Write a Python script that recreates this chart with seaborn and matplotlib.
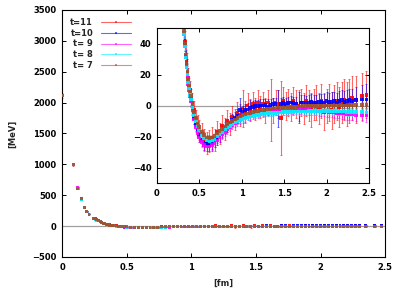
import numpy as np
import pandas as pd
import matplotlib
matplotlib.use("Agg")
import matplotlib.pyplot as plt
from matplotlib.lines import Line2D
import seaborn as sns

# ---------------- data ----------------
r = [0.0, 0.085, 0.12, 0.147, 0.17, 0.19, 0.208, 0.24, 0.255, 0.269,
     0.282, 0.294, 0.306, 0.318, 0.33, 0.34, 0.35, 0.36, 0.37, 0.38,
     0.39, 0.40, 0.42, 0.44, 0.46, 0.48, 0.50, 0.53, 0.56, 0.59,
     0.62, 0.65, 0.68, 0.71, 0.74, 0.77, 0.80, 0.83, 0.86, 0.89,
     0.92, 0.95, 0.98, 1.01, 1.04, 1.07, 1.10, 1.13, 1.16, 1.19,
     1.22, 1.25, 1.28, 1.31, 1.34, 1.37, 1.40, 1.43, 1.46, 1.49,
     1.52, 1.55, 1.58, 1.61, 1.64, 1.67, 1.70, 1.73, 1.76, 1.79,
     1.82, 1.85, 1.88, 1.91, 1.94, 1.97, 2.00, 2.03, 2.06, 2.09,
     2.12, 2.15, 2.18, 2.21, 2.24, 2.27, 2.30, 2.35, 2.42, 2.47]

v11 = [2119, 999, 617, 439, 299, 239, 196, 131, 114, 101,
       84, 71, 59, 46, 41, 32, 28, 21, 18, 12,
       10, 5, 2, -3, -9, -12, -16, -18, -22, -24,
       -23, -21, -22, -17, -18, -13, -15, -10, -12, -7,
       -9, -5, -6, -2, -4, 0, -3, 1, -2, 2,
       -1, 1, -3, 2, -3, -3, 2, 1, -8, 3,
       0, 2, -1, 3, 1, 0, 2, -2, 3, 0,
       -3, 1, 2, -2, 3, -4, 0, 2, -3, 1,
       3, -1, 2, 4, 1, 3, 5, 4, 6, 7]
e11 = [40, 30, 22, 17, 13, 11, 9, 8, 8, 8,
       8, 8, 7, 7, 7, 7, 6, 6, 6, 6,
       6, 6, 6, 6, 6, 6, 6.5, 7, 7, 7,
       7, 7, 7, 7, 7, 7, 7, 7, 7, 7,
       7, 7, 7, 12, 7, 8, 7, 8, 7, 8,
       7, 8, 8, 8, 20, 8, 8, 9, 24, 9,
       9, 9, 9, 9, 9, 10, 9, 10, 10, 10,
       11, 10, 11, 10, 11, 12, 11, 12, 12, 12,
       12, 13, 13, 13, 14, 14, 14, 15, 15, 15]

v10 = [2121, 1001, 616, 441, 301, 241, 195, 129, 116, 99,
       86, 69, 58, 47, 39, 32, 26, 20, 15, 11,
       7, 4, -2, -8, -12.5, -16, -19, -22, -24, -25,
       -25, -24.5, -22.5, -21, -19, -17, -14.5, -13, -11, -9.5,
       -8, -6.5, -3, -4, -3, -2.5, -1.5, -1.0, -0.5, -0.5,
       0.0, 0.0, 0.5, -1.0, 0.5, 1.0, 1.0, -2.0, 1.0, 1.5,
       1.0, 1.5, 2.0, 1.5, 1.0, -1.0, 2.0, 2.0, 1.5, 2.0,
       2.5, 2.0, 2.0, 2.5, 2.5, 2.0, 3.0, 2.5, 2.5, 3.0,
       2.0, 3.0, 3.5, 2.5, 3.0, 3.5, 3.0, 3.5, 4.0, 4.0]
e10 = [20, 15, 12, 9, 7, 6, 5, 4.5, 4.5, 4.5,
       4.5, 4.5, 4.2, 4.2, 4, 4, 4, 4, 4, 4,
       4, 4, 4, 4, 4, 4, 4.2, 4.3, 4.5, 4.5,
       4.5, 4.5, 4.4, 4.3, 4.2, 4.1, 4, 4, 4, 4,
       4, 4, 8, 4, 4, 4, 5, 4, 4, 4,
       4, 4, 4, 5, 4, 4, 4, 12, 4, 4,
       4, 4, 4, 4, 4.5, 10, 4.5, 4.5, 4.5, 4.5,
       5, 5, 5, 5, 5, 5.5, 5.5, 5.5, 6, 6,
       6, 6.5, 6.5, 7, 7, 7.5, 8, 8.5, 9, 10]

v9 = [2122, 998, 618, 442, 302, 242, 196, 131, 116, 101,
      86, 70, 57, 47, 38, 31, 25, 19, 14, 10,
      6, 3, -3, -9, -14, -17.5, -20.5, -23.5, -25.5, -26.5,
      -26.5, -25.5, -24, -22.5, -20.5, -18.5, -17, -15.5, -14, -12.5,
      -11.5, -10.5, -9.5, -8.6, -7.8, -7.1, -6.5, -6, -5.6, -5.3,
      -5, -4.7, -4.4, -4.2, -4, -3.8, -3.6, -3.5, -3.4, -3.3,
      -3.2, -3.1, -3.0, -3.0, -2.9, -2.9, -2.9, -2.9, -3.0, -3.0,
      -3.1, -3.2, -3.3, -3.4, -3.5, -3.6, -3.8, -4.0, -4.2, -4.4,
      -4.6, -4.8, -5.0, -5.2, -5.4, -5.6, -5.8, -6.0, -6.2, -6.4]
e9 = [14, 10, 8, 6, 5, 4, 3.5, 3, 3, 3,
      3, 3, 2.8, 2.8, 2.7, 2.7, 2.6, 2.6, 2.6, 2.6,
      2.6, 2.6, 2.7, 2.7, 2.8, 2.8, 2.9, 3, 3, 3,
      3, 3, 2.9, 2.9, 2.8, 2.8, 2.7, 2.7, 2.6, 2.6,
      2.5, 2.5, 2.5, 2.5, 2.5, 2.5, 2.5, 2.5, 2.5, 2.5,
      2.5, 2.5, 2.5, 2.5, 2.5, 2.5, 2.6, 2.6, 2.6, 2.6,
      2.6, 2.7, 2.7, 2.7, 2.8, 2.8, 2.8, 2.9, 2.9, 3,
      3, 3, 3.1, 3.1, 3.2, 3.2, 3.3, 3.3, 3.4, 3.4,
      3.5, 3.5, 3.6, 3.6, 3.7, 3.7, 3.8, 3.9, 4, 4.1]

v8 = [2118, 1002, 612, 438, 298, 238, 193, 128, 112, 98,
      83, 68, 56, 46, 38, 31, 25, 20, 15, 11,
      7, 4, -1, -6, -10, -13, -16, -19, -21, -22.5,
      -23, -22.5, -21.5, -20, -18.5, -17, -15.5, -14, -13, -12,
      -11, -10, -9.2, -8.5, -8, -7.5, -7, -6.6, -6.2, -5.9,
      -5.6, -5.4, -5.2, -5, -4.8, -4.7, -4.6, -4.5, -4.4, -4.3,
      -4.2, -4.1, -4.0, -4.0, -3.9, -3.9, -3.8, -3.8, -3.8, -3.7,
      -3.7, -3.7, -3.7, -3.6, -3.6, -3.6, -3.6, -3.6, -3.6, -3.7,
      -3.7, -3.8, -3.8, -3.9, -4.0, -4.0, -4.1, -4.2, -4.3, -4.4]
e8 = [10, 8, 6, 5, 4, 3.5, 3, 2.5, 2.5, 2.5,
      2.3, 2.3, 2.2, 2.2, 2.1, 2.1, 2, 2, 2, 2,
      2, 2, 2, 2, 2, 2, 2.1, 2.1, 2.2, 2.2,
      2.2, 2.2, 2.1, 2.1, 2, 2, 2, 1.9, 1.9, 1.9,
      1.8, 1.8, 1.8, 1.8, 1.8, 1.8, 1.8, 1.8, 1.8, 1.8,
      1.8, 1.8, 1.8, 1.8, 1.8, 1.8, 1.8, 1.8, 1.8, 1.8,
      1.9, 1.9, 1.9, 1.9, 1.9, 2, 2, 2, 2, 2,
      2.1, 2.1, 2.1, 2.1, 2.2, 2.2, 2.2, 2.2, 2.3, 2.3,
      2.3, 2.4, 2.4, 2.5, 2.5, 2.6, 2.6, 2.7, 2.8, 2.9]

v7 = [2120, 1000, 615, 440, 300, 240, 195, 130, 115, 100,
      85, 70, 58, 48, 40, 33, 27, 22, 17, 13,
      9, 6, 1, -4, -8, -11.5, -14, -17, -19, -20.5,
      -21, -20.5, -19.5, -18, -16.5, -15, -13.5, -12, -11, -10,
      -9, -8, -7, -6.3, -5.7, -5.1, -4.6, -4.2, -3.8, -3.5,
      -3.2, -2.9, -2.6, -2.4, -2.2, -2.0, -1.8, -1.6, -1.5, -1.3,
      -1.2, -1.1, -1.0, -0.9, -0.8, -0.7, -0.6, -0.5, -0.5, -0.4,
      -0.3, -0.3, -0.2, -0.2, -0.1, -0.1, 0.0, 0.0, 0.0, 0.0,
      0.0, 0.0, 0.1, 0.1, 0.1, 0.1, 0.2, 0.2, 0.3, 0.3]
e7 = [8, 6, 5, 4, 3, 3, 2.5, 2, 2, 2,
      2, 2, 1.8, 1.8, 1.6, 1.6, 1.5, 1.5, 1.5, 1.5,
      1.5, 1.5, 1.5, 1.5, 1.5, 1.5, 1.6, 1.6, 1.7, 1.7,
      1.7, 1.7, 1.6, 1.6, 1.5, 1.5, 1.5, 1.4, 1.4, 1.4,
      1.3, 1.3, 1.3, 1.3, 1.3, 1.2, 1.2, 1.2, 1.2, 1.2,
      1.2, 1.2, 1.2, 1.2, 1.2, 1.2, 1.2, 1.2, 1.2, 1.2,
      1.2, 1.2, 1.2, 1.2, 1.2, 1.3, 1.3, 1.3, 1.3, 1.3,
      1.3, 1.3, 1.3, 1.3, 1.4, 1.4, 1.4, 1.4, 1.4, 1.5,
      1.5, 1.5, 1.5, 1.6, 1.6, 1.6, 1.7, 1.7, 1.8, 1.8]

labels = ["t=11", "t=10", "t= 9", "t= 8", "t= 7"]
colors = ["#ff0000", "#0000ff", "#ff00ff", "#00f0ff", "#a0522d"]
values = [v11, v10, v9, v8, v7]
errors = [e11, e10, e9, e8, e7]

main_xticks = [0, 0.5, 1, 1.5, 2, 2.5]
main_xticklabels = ["0", "0.5", "1", "1.5", "2", "2.5"]
main_yticks = [-500, 0, 500, 1000, 1500, 2000, 2500, 3000, 3500]
inset_yticks = [-40, -20, 0, 20, 40]

# ---------------- build long table ----------------
frames = []
for lab, v, e in zip(labels, values, errors):
    frames.append(pd.DataFrame({"r": r, "V": v, "err": e, "t": lab}))
df = pd.concat(frames, ignore_index=True)

# ---------------- style ----------------
sns.set_theme(style="ticks")
plt.rcParams["font.family"] = ["DejaVu Sans"]
plt.rcParams["font.weight"] = "bold"
plt.rcParams["axes.labelweight"] = "bold"

fig = plt.figure(figsize=(3.98, 2.92), dpi=100)
ax = fig.add_axes([0.156, 0.120, 0.812, 0.846])
axin = fig.add_axes([0.394, 0.373, 0.533, 0.531])

palette = dict(zip(labels, colors))

for a, ms in ((ax, 4.5), (axin, 7)):
    a.axhline(0, color="#a0a0a0", lw=0.9, zorder=1)
    for lab, c in zip(labels, colors):
        sub = df[df["t"] == lab]
        a.errorbar(sub["r"], sub["V"], yerr=sub["err"], fmt="none",
                   ecolor=c, alpha=0.6, elinewidth=0.8, capsize=1.0,
                   capthick=0.6, zorder=2)
    sns.scatterplot(data=df, x="r", y="V", hue="t", hue_order=labels,
                    palette=palette, marker="s", s=ms, linewidth=0,
                    alpha=0.9, legend=False, ax=a, zorder=3)
    a.set_xlim(0, 2.5)
    a.set_xticks(main_xticks)
    a.set_xticklabels(main_xticklabels)
    a.tick_params(direction="in", top=True, right=True, length=3,
                  width=0.7, labelsize=6, pad=4, colors="black")
    for s in a.spines.values():
        s.set_color("black")
        s.set_linewidth(0.8)
    a.set_xlabel("")
    a.set_ylabel("")

ax.set_ylim(-500, 3500)
ax.set_yticks(main_yticks)
ax.set_xlabel("[fm]", fontsize=6, labelpad=5)
ax.set_ylabel("[MeV]", fontsize=6, labelpad=11)

axin.set_ylim(-50, 50)
axin.set_yticks(inset_yticks)
axin.set_facecolor("white")

handles = [Line2D([0], [0], color=c, lw=0.8, alpha=0.6, marker="s",
                  markersize=1.8, markerfacecolor=c, markeredgewidth=0)
           for c in colors]
ax.legend(handles, labels, loc="upper left", bbox_to_anchor=(0.005, 0.995),
          frameon=False, markerfirst=False, fontsize=6, handlelength=3.6,
          handletextpad=0.9, labelspacing=0.22, borderpad=0.3)

fig.savefig("out.png", dpi=100)
